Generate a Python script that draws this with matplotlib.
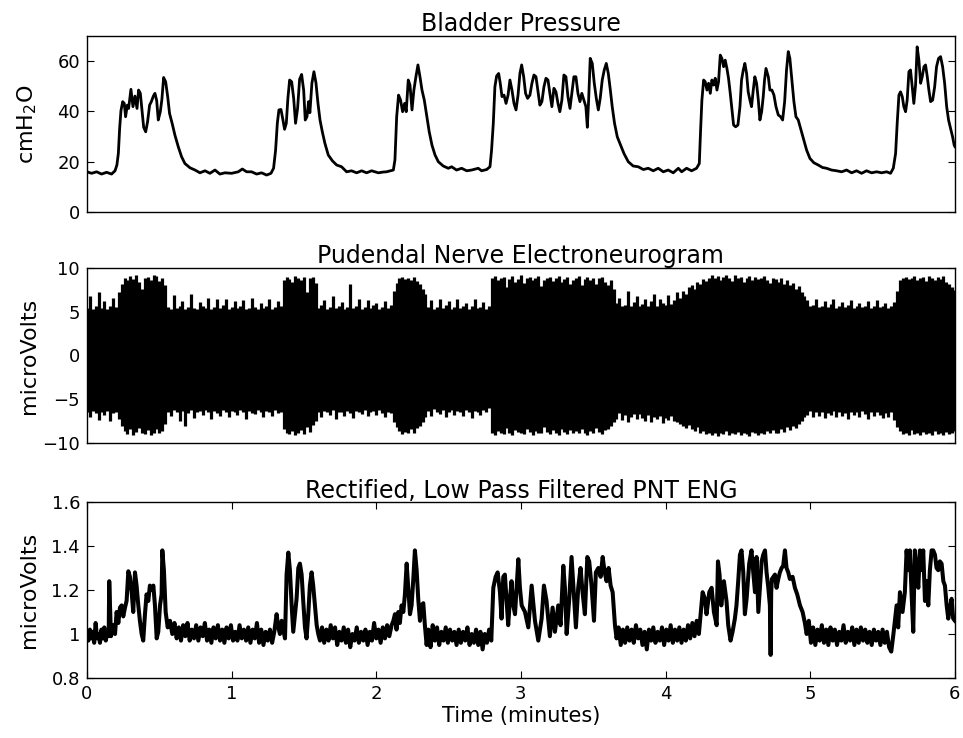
import numpy as np
import matplotlib.pyplot as plt

# bladder pressure (minutes, cmH2O)
bp_t = [0.000, 0.032, 0.067, 0.101, 0.136, 0.170, 0.194, 0.207, 0.217, 0.226,
        0.235, 0.247, 0.258, 0.267, 0.279, 0.288, 0.304, 0.318, 0.332, 0.346,
        0.357, 0.369, 0.380, 0.392, 0.406, 0.419, 0.433, 0.445, 0.459, 0.470,
        0.482, 0.493, 0.507, 0.518, 0.530, 0.544, 0.558, 0.571, 0.590, 0.608,
        0.631, 0.654, 0.677, 0.712, 0.747, 0.781, 0.816, 0.850, 0.885, 0.919,
        0.954, 1.000, 1.046, 1.074, 1.104, 1.138, 1.173, 1.207, 1.242, 1.272,
        1.290, 1.304, 1.316, 1.327, 1.341, 1.353, 1.366, 1.378, 1.389, 1.401,
        1.415, 1.429, 1.442, 1.456, 1.470, 1.484, 1.498, 1.509, 1.521, 1.532,
        1.541, 1.555, 1.569, 1.583, 1.597, 1.611, 1.627, 1.645, 1.668, 1.696,
        1.726, 1.760, 1.795, 1.829, 1.864, 1.899, 1.933, 1.968, 2.014, 2.048,
        2.071, 2.118, 2.129, 2.141, 2.154, 2.168, 2.182, 2.196, 2.207, 2.221,
        2.233, 2.247, 2.260, 2.274, 2.288, 2.302, 2.316, 2.332, 2.348, 2.366,
        2.385, 2.406, 2.429, 2.463, 2.498, 2.521, 2.555, 2.590, 2.625, 2.659,
        2.705, 2.728, 2.763, 2.786, 2.797, 2.809, 2.820, 2.832, 2.846, 2.857,
        2.869, 2.883, 2.897, 2.911, 2.924, 2.938, 2.952, 2.966, 2.980, 2.993,
        3.005, 3.019, 3.032, 3.046, 3.062, 3.076, 3.090, 3.104, 3.117, 3.131,
        3.145, 3.159, 3.173, 3.187, 3.200, 3.214, 3.228, 3.242, 3.256, 3.269,
        3.283, 3.297, 3.311, 3.325, 3.339, 3.352, 3.366, 3.380, 3.394, 3.408,
        3.421, 3.435, 3.449, 3.459, 3.468, 3.479, 3.493, 3.507, 3.521, 3.535,
        3.548, 3.562, 3.576, 3.590, 3.604, 3.618, 3.631, 3.647, 3.666, 3.689,
        3.712, 3.742, 3.776, 3.811, 3.846, 3.880, 3.915, 3.949, 3.984, 4.018,
        4.053, 4.088, 4.111, 4.145, 4.180, 4.214, 4.233, 4.242, 4.251, 4.263,
        4.274, 4.286, 4.297, 4.309, 4.320, 4.332, 4.343, 4.355, 4.366, 4.378,
        4.389, 4.401, 4.412, 4.424, 4.435, 4.447, 4.458, 4.470, 4.484, 4.500,
        4.514, 4.525, 4.537, 4.548, 4.560, 4.571, 4.583, 4.594, 4.606, 4.617,
        4.629, 4.641, 4.652, 4.664, 4.675, 4.684, 4.694, 4.710, 4.721, 4.735,
        4.749, 4.763, 4.779, 4.795, 4.809, 4.823, 4.836, 4.848, 4.859, 4.873,
        4.887, 4.901, 4.917, 4.933, 4.952, 4.975, 4.998, 5.025, 5.055, 5.085,
        5.113, 5.147, 5.182, 5.217, 5.251, 5.286, 5.320, 5.355, 5.389, 5.424,
        5.459, 5.493, 5.528, 5.555, 5.574, 5.590, 5.601, 5.613, 5.624, 5.636,
        5.647, 5.659, 5.670, 5.682, 5.693, 5.705, 5.716, 5.728, 5.739, 5.751,
        5.763, 5.774, 5.786, 5.797, 5.809, 5.820, 5.832, 5.846, 5.860, 5.873,
        5.887, 5.901, 5.915, 5.929, 5.943, 5.956, 5.970, 5.984, 5.995, 6.000]
bp_v = [16.0, 15.4, 16.0, 15.1, 15.8, 15.1, 16.4, 18.7, 23.3, 33.3,
        40.3, 43.9, 43.2, 37.9, 42.5, 41.2, 48.8, 41.9, 46.1, 41.2,
        48.5, 47.2, 40.6, 33.7, 31.9, 35.9, 42.5, 43.9, 46.1, 47.2,
        44.3, 36.6, 39.9, 44.8, 53.5, 51.8, 45.9, 39.2, 35.0, 30.6,
        26.0, 22.0, 19.3, 17.6, 16.7, 15.6, 16.4, 15.4, 16.7, 15.1,
        15.6, 15.4, 16.0, 17.1, 16.0, 16.0, 15.1, 15.6, 14.7, 15.4,
        17.4, 24.6, 35.3, 40.6, 40.8, 37.2, 32.9, 35.3, 45.2, 52.5,
        51.8, 45.2, 35.3, 41.2, 52.8, 54.7, 48.5, 36.6, 37.9, 43.9,
        39.5, 51.2, 55.8, 51.4, 43.2, 36.6, 31.9, 27.3, 22.7, 20.4,
        18.7, 18.0, 16.0, 16.4, 15.6, 16.4, 15.6, 16.4, 15.6, 15.9,
        16.0, 16.7, 20.7, 37.9, 46.5, 44.5, 39.9, 43.2, 39.9, 52.5,
        50.5, 40.6, 48.5, 53.8, 58.5, 53.8, 48.5, 44.5, 38.6, 31.9,
        26.6, 22.7, 20.0, 18.3, 17.4, 18.0, 16.7, 17.4, 16.4, 16.7,
        17.4, 16.4, 16.9, 18.0, 24.6, 35.3, 49.8, 54.1, 55.1, 51.2,
        45.9, 46.5, 43.2, 46.5, 52.5, 48.5, 43.2, 40.6, 46.5, 55.1,
        58.5, 53.8, 47.2, 45.2, 46.5, 51.2, 54.5, 53.8, 48.5, 42.5,
        43.9, 49.8, 53.2, 52.5, 47.2, 41.9, 49.2, 47.8, 43.2, 39.9,
        44.5, 54.5, 53.8, 45.9, 41.2, 47.2, 53.8, 53.8, 47.2, 43.9,
        47.2, 44.5, 41.9, 33.7, 44.5, 61.1, 59.1, 51.2, 45.2, 40.6,
        45.2, 52.5, 56.5, 59.1, 55.1, 48.5, 41.9, 35.3, 29.9, 26.6,
        23.3, 20.0, 18.3, 18.0, 16.9, 17.4, 16.4, 17.4, 16.0, 16.7,
        15.6, 17.4, 16.0, 17.4, 16.4, 17.4, 19.3, 32.6, 44.5, 52.5,
        51.8, 48.5, 51.2, 47.2, 52.5, 50.5, 53.2, 48.5, 51.8, 62.4,
        61.1, 57.8, 60.4, 57.1, 53.2, 47.2, 41.2, 34.6, 33.9, 34.6,
        41.9, 52.5, 56.5, 59.1, 55.1, 47.8, 44.5, 41.9, 48.5, 53.8,
        51.2, 44.5, 36.6, 39.9, 45.9, 52.5, 57.1, 53.8, 48.5, 48.5,
        46.5, 41.9, 38.6, 37.9, 36.6, 43.9, 56.5, 63.8, 61.1, 52.5,
        43.9, 37.9, 36.6, 33.3, 29.3, 24.6, 21.3, 19.6, 18.7, 17.7,
        17.4, 16.7, 16.4, 16.0, 16.7, 15.6, 16.4, 15.4, 16.4, 15.6,
        16.0, 15.6, 16.0, 15.4, 17.4, 23.3, 35.3, 46.5, 47.8, 45.9,
        41.9, 39.9, 44.5, 55.8, 56.5, 49.8, 43.2, 50.5, 65.7, 60.4,
        51.2, 53.8, 57.8, 58.5, 53.8, 48.5, 43.9, 44.5, 49.8, 57.8,
        61.1, 61.8, 57.8, 51.2, 41.9, 36.6, 33.3, 29.9, 26.6, 26.0]

# pudendal nerve ENG peak envelope, one value every 0.02 min
eng_upper = [5.4, 6.8, 5.3, 5.6, 7.3, 5.4, 6.2, 5.3, 5.6, 6.6, 5.5, 7.2,
             8.2, 8.9, 8.6, 9.1, 8.7, 9.2, 8.4, 7.6, 8.8, 9.0, 8.6, 9.2, 9.1, 8.5, 8.9, 8.0,
             5.5, 5.3, 6.9, 5.4, 5.6, 6.2, 5.3, 5.5, 7.0, 5.4,
             5.3, 6.1, 5.6, 5.4, 6.6, 5.3, 5.5, 6.4, 5.4, 5.8,
             6.5, 5.3, 5.5, 6.2, 5.4, 5.7, 6.3, 5.3, 5.4, 6.6,
             5.5, 5.3, 6.0, 5.4, 5.6, 6.4, 5.3, 5.5, 6.2, 5.6,
             8.6, 9.0, 8.7, 8.4, 9.1, 8.9, 8.6, 9.0, 7.2, 8.8, 9.0, 8.3,
             5.4, 5.8, 6.3, 5.3, 5.5, 6.8, 5.4, 5.6, 6.1, 5.3,
             5.5, 8.2, 5.4, 5.7, 6.4, 5.3, 5.5, 6.3, 5.4, 5.8,
             6.0, 5.3, 5.5, 6.2, 5.4, 5.8,
             7.4, 8.3, 8.8, 9.0, 8.7, 8.9, 8.6, 9.0, 8.5, 8.2, 7.6, 7.0,
             5.5, 6.3, 5.3, 5.5, 6.5, 5.4, 5.8, 6.2, 5.3, 5.5,
             6.4, 5.4, 5.7, 6.0, 5.3, 5.6, 6.5, 5.4, 5.5, 6.1, 5.3, 5.6,
             8.9, 9.1, 8.6, 8.8, 9.0, 7.8, 8.7, 9.1, 8.4, 8.7,
             9.2, 8.3, 8.8, 9.0, 8.6, 8.8, 9.1, 7.9, 8.6, 8.9,
             9.0, 8.5, 8.8, 9.1, 8.4, 8.7, 9.0, 8.2, 8.6, 8.8,
             9.1, 8.0, 8.7, 9.0, 8.6, 8.9, 8.2, 8.8, 9.0, 8.4,
             8.0, 8.6, 7.6,
             6.0, 6.6, 5.6, 5.8, 7.4, 5.6, 6.1, 6.8, 5.7, 5.9,
             6.5, 5.6, 6.2, 7.0, 5.7, 6.4, 6.0, 5.8, 6.9, 5.9, 6.3, 7.2,
             6.6, 7.4, 7.0, 7.8, 8.1, 7.6, 8.4, 8.2, 8.7, 8.5, 8.8,
             9.2, 8.8, 9.1, 8.6, 9.0, 9.2, 8.9, 8.5, 9.2, 8.8,
             9.0, 8.4, 8.9, 9.1, 8.6, 9.0, 8.7, 8.8, 9.1, 8.6,
             8.3, 8.8, 8.7, 8.4, 8.9, 8.2, 8.6, 8.0, 8.3, 7.6,
             7.9, 7.2, 6.8,
             6.3, 5.6, 5.8, 6.5, 5.5, 5.7, 6.2, 5.5, 5.9, 6.4,
             5.4, 5.6, 6.1, 5.5, 5.8, 6.3, 5.4, 5.6, 6.0, 5.5,
             5.7, 6.2, 5.4, 5.6, 6.3, 5.5, 5.7, 6.0, 5.4, 5.6, 6.1,
             7.4, 8.6, 8.9, 9.0, 8.7, 8.9, 9.1, 8.6, 8.8, 9.0,
             8.5, 9.1, 8.8, 8.6, 9.0, 8.7, 9.1, 8.4, 8.2, 7.8, 7.5]
eng_lower = [-6.5, -7.0, -6.3, -6.6, -7.4, -6.4, -6.8, -6.3, -7.5, -6.6, -6.4, -7.2,
             -8.0, -8.6, -9.0, -8.4, -9.1, -8.7, -8.3, -8.9, -9.0, -8.5,
             -9.1, -8.8, -8.4, -8.9, -8.6, -7.8,
             -6.4, -6.9, -6.2, -6.5, -7.5, -6.3, -8.0, -6.6, -6.2, -7.1,
             -6.4, -6.3, -6.8, -6.2, -6.5, -7.3, -6.3, -6.6, -6.9, -6.2,
             -6.4, -7.0, -6.3, -6.5, -6.8, -6.2, -6.4, -7.2, -6.3, -6.6,
             -6.7, -6.2, -6.5, -7.0, -6.3, -6.4, -6.9, -6.2, -6.6, -6.4,
             -8.4, -8.8, -9.0, -8.6, -9.1, -8.8, -8.5, -9.0, -8.2, -8.7, -7.9, -7.5,
             -6.4, -7.0, -6.3, -6.5, -6.8, -6.2, -7.2, -6.4, -6.5, -6.9,
             -6.3, -6.6, -7.1, -6.3, -6.5, -6.7, -6.2, -6.9, -6.4, -6.3,
             -6.8, -6.2, -6.6, -7.0, -6.4, -6.6,
             -7.6, -8.2, -8.6, -9.0, -8.7, -8.9, -8.4, -8.8, -8.3, -8.0, -7.6, -7.0,
             -6.3, -6.9, -6.1, -6.4, -6.7, -6.2, -7.0, -6.4, -6.2, -6.8,
             -6.3, -6.5, -6.9, -6.2, -6.4, -7.1, -6.3, -6.5, -6.8, -6.2, -6.4, -6.0,
             -8.8, -9.1, -8.6, -8.9, -9.0, -8.3, -8.9, -9.1, -8.5, -8.7,
             -8.8, -9.0, -8.4, -8.7, -9.1, -8.6, -8.8, -8.9, -8.2, -8.7,
             -9.0, -8.5, -8.8, -9.1, -8.4, -8.7, -9.0, -8.5, -8.8, -8.6,
             -8.9, -8.4, -8.8, -9.1, -8.6, -8.9, -8.3, -8.7, -9.0, -8.5,
             -8.4, -8.1, -7.6,
             -7.2, -6.6, -7.4, -6.8, -7.6, -7.0, -6.7, -7.3, -6.7, -7.1,
             -7.5, -6.8, -7.6, -7.0, -7.3, -6.9, -7.7, -7.1, -7.4, -6.9, -7.5, -7.6,
             -7.8, -8.0, -8.3, -7.9, -8.4, -8.6, -8.2, -8.8, -8.6, -9.0, -8.8,
             -9.1, -8.9, -9.2, -8.8, -9.0, -8.6, -9.1, -8.9, -9.0, -8.7,
             -9.1, -8.8, -9.0, -9.2, -8.7, -8.9, -9.1, -8.8, -9.0, -8.6,
             -8.9, -8.5, -8.8, -8.9, -8.4, -8.7, -8.2, -8.5, -8.0, -8.3,
             -7.8, -7.5, -7.0,
             -6.8, -6.3, -7.0, -6.5, -6.9, -6.4, -7.1, -6.6, -6.8, -6.3,
             -7.0, -6.5, -6.9, -6.6, -7.3, -6.4, -6.8, -6.5, -7.0, -6.3,
             -6.7, -7.2, -6.5, -6.9, -6.4, -6.8, -7.1, -6.6, -7.0, -6.5, -7.4,
             -8.2, -8.6, -9.0, -8.8, -9.1, -8.5, -9.0, -8.9, -9.1, -8.7,
             -9.0, -8.8, -9.1, -8.6, -9.0, -8.9, -9.1, -8.7, -9.0, -8.8, -8.6]

# rectified, low pass filtered ENG (minutes, microVolts)
rect_t = [0.00, 0.01, 0.02, 0.03, 0.04, 0.05, 0.06, 0.07, 0.08, 0.09,
          0.10, 0.11, 0.12, 0.13, 0.14, 0.15, 0.154, 0.166,
          0.182, 0.194, 0.205, 0.217, 0.228, 0.240, 0.251, 0.263, 0.274, 0.286,
          0.297, 0.309, 0.320, 0.332, 0.343, 0.355, 0.366, 0.378, 0.389, 0.401,
          0.412, 0.424, 0.435, 0.447, 0.459, 0.470, 0.482, 0.493, 0.505, 0.516,
          0.521, 0.532, 0.544, 0.558, 0.574,
          0.590, 0.605, 0.620, 0.635, 0.650, 0.665, 0.680, 0.695, 0.710, 0.725,
          0.740, 0.755, 0.770, 0.785, 0.800, 0.815, 0.830, 0.845, 0.860, 0.875,
          0.890, 0.905, 0.920, 0.935, 0.950, 0.965, 0.980, 0.995, 1.010, 1.025,
          1.040, 1.055, 1.070, 1.085, 1.100, 1.115, 1.130, 1.145, 1.160, 1.175,
          1.190, 1.205, 1.220, 1.235, 1.250, 1.265, 1.280, 1.295,
          1.311, 1.323, 1.334, 1.346, 1.357, 1.369, 1.380, 1.392, 1.403, 1.415,
          1.426, 1.438, 1.449, 1.461, 1.472, 1.484, 1.495, 1.507, 1.518, 1.530,
          1.541, 1.553, 1.564, 1.576, 1.588, 1.599, 1.611,
          1.625, 1.640, 1.655, 1.670, 1.685, 1.700, 1.715, 1.730, 1.745, 1.760,
          1.775, 1.790, 1.805, 1.820, 1.835, 1.850, 1.865, 1.880, 1.895, 1.910,
          1.925, 1.940, 1.955, 1.970, 1.985, 2.000, 2.015, 2.030, 2.045, 2.060,
          2.075, 2.090,
          2.106, 2.118, 2.129, 2.140, 2.152, 2.163, 2.175, 2.187, 2.198, 2.210,
          2.221, 2.233, 2.244, 2.256, 2.267, 2.279, 2.290, 2.302, 2.313, 2.325,
          2.336, 2.348,
          2.360, 2.375, 2.390, 2.405, 2.420, 2.435, 2.450, 2.465, 2.480, 2.495,
          2.510, 2.525, 2.540, 2.555, 2.570, 2.585, 2.600, 2.615, 2.630, 2.645,
          2.660, 2.675, 2.690, 2.705, 2.720, 2.735, 2.750, 2.765, 2.780, 2.795,
          2.809, 2.825, 2.839, 2.855, 2.866, 2.878, 2.889, 2.901, 2.912, 2.924,
          2.935, 2.947, 2.959, 2.970, 2.982, 2.993, 3.005,
          3.028, 3.051, 3.074, 3.097, 3.120, 3.143, 3.159, 3.177, 3.200, 3.219,
          3.235, 3.258, 3.274, 3.293, 3.304, 3.316, 3.334, 3.350, 3.362, 3.380,
          3.396, 3.412, 3.426, 3.442, 3.459, 3.472, 3.488, 3.505, 3.518, 3.535,
          3.551, 3.565, 3.579, 3.592, 3.606, 3.620, 3.634, 3.650, 3.661,
          3.675, 3.690, 3.705, 3.720, 3.735, 3.750, 3.765, 3.780, 3.795, 3.810,
          3.825, 3.840, 3.855, 3.870, 3.885, 3.900, 3.915, 3.930, 3.945, 3.960,
          3.975, 3.990, 4.005, 4.020, 4.035, 4.050, 4.065, 4.080, 4.095, 4.110,
          4.125, 4.140, 4.155, 4.170, 4.185, 4.200, 4.215, 4.230,
          4.256, 4.272, 4.283, 4.302, 4.318, 4.334, 4.353, 4.362, 4.373, 4.385,
          4.403, 4.421, 4.433, 4.449, 4.463, 4.479, 4.490, 4.502, 4.514, 4.525,
          4.537, 4.548, 4.560, 4.578, 4.594, 4.606, 4.618, 4.629, 4.641, 4.652,
          4.664, 4.675, 4.687, 4.698, 4.710, 4.721, 4.726, 4.730, 4.735, 4.756,
          4.767, 4.779, 4.790, 4.802, 4.813, 4.825, 4.836, 4.848, 4.859, 4.878,
          4.894, 4.910, 4.929, 4.947, 4.963,
          4.975, 4.990, 5.005, 5.020, 5.035, 5.050, 5.065, 5.080, 5.095, 5.110,
          5.125, 5.140, 5.155, 5.170, 5.185, 5.200, 5.215, 5.230, 5.245, 5.260,
          5.275, 5.290, 5.305, 5.320, 5.335, 5.350, 5.365, 5.380, 5.395, 5.410,
          5.425, 5.440, 5.455, 5.470, 5.485, 5.500, 5.515, 5.530, 5.545, 5.560,
          5.575,
          5.597, 5.608, 5.620, 5.638, 5.654, 5.666, 5.677, 5.689, 5.700, 5.712,
          5.723, 5.735, 5.747, 5.758, 5.770, 5.781, 5.793, 5.804, 5.816, 5.827,
          5.839, 5.850, 5.862, 5.873, 5.885, 5.896, 5.908, 5.920, 5.931, 5.943,
          5.954, 5.966, 5.977, 5.988, 6.000]
rect_v = [1.00, 0.97, 1.02, 0.98, 1.01, 0.96, 1.05, 0.98, 1.00, 0.96,
          1.02, 0.98, 1.03, 0.97, 1.01, 0.99, 1.24, 0.99,
          1.04, 1.00, 1.10, 1.05, 1.12, 1.13, 1.08, 1.12, 1.15, 1.285,
          1.26, 1.19, 1.10, 1.28, 1.22, 1.13, 1.06, 1.00, 0.97, 1.09,
          1.18, 1.15, 1.22, 1.20, 1.22, 1.13, 0.98, 1.01, 1.13, 1.18,
          1.38, 1.29, 1.10, 1.03, 1.06,
          1.00, 1.05, 0.98, 1.03, 0.97, 1.04, 0.99, 1.05, 0.97, 1.02,
          0.98, 1.04, 0.97, 1.03, 0.99, 1.05, 0.97, 1.02, 0.96, 1.03,
          0.98, 1.04, 0.97, 1.02, 0.96, 1.03, 0.98, 1.04, 0.97, 1.01,
          0.97, 1.04, 0.98, 1.02, 0.97, 1.03, 0.96, 1.02, 0.98, 1.05,
          0.96, 1.02, 0.95, 1.01, 0.97, 1.02, 0.96, 1.01,
          1.09, 1.03, 1.00, 1.06, 1.02, 0.98, 1.27, 1.37, 1.29, 1.13,
          1.01, 1.09, 1.16, 1.30, 1.32, 1.27, 1.15, 1.03, 0.98, 1.09,
          1.22, 1.28, 1.22, 1.13, 1.04, 1.00, 0.97,
          1.03, 0.96, 1.02, 0.97, 1.04, 0.98, 1.03, 0.95, 1.01, 0.97,
          1.03, 0.96, 1.02, 0.94, 1.00, 0.97, 1.03, 0.96, 1.01, 0.97,
          1.02, 0.95, 1.01, 0.97, 1.05, 0.98, 1.02, 0.96, 1.03, 0.98,
          1.04, 0.99,
          1.04, 1.06, 1.09, 1.02, 1.10, 1.05, 1.13, 1.10, 1.18, 1.32,
          1.21, 1.09, 1.13, 1.25, 1.38, 1.29, 1.16, 1.06, 1.13, 1.14,
          1.04, 0.95,
          1.02, 0.94, 1.04, 0.97, 1.03, 0.95, 1.01, 0.97, 1.03, 0.96,
          1.02, 0.97, 1.01, 0.95, 1.02, 0.96, 1.01, 0.97, 1.03, 0.95,
          1.00, 0.96, 1.02, 0.95, 1.01, 0.93, 1.00, 0.96, 1.02, 0.97,
          1.21, 1.26, 1.28, 1.19, 1.07, 1.26, 1.27, 1.15, 1.04, 1.16,
          1.24, 1.13, 1.09, 1.21, 1.34, 1.21, 1.13,
          1.10, 1.03, 1.22, 1.06, 0.97, 1.07, 1.22, 1.15, 0.99, 1.12,
          1.01, 1.13, 1.04, 1.31, 1.21, 1.00, 1.16, 1.35, 1.22, 1.03,
          1.21, 1.30, 1.19, 1.09, 1.35, 1.33, 1.22, 1.06, 1.28, 1.30,
          1.26, 1.35, 1.28, 1.24, 1.30, 1.22, 1.19, 1.04, 0.98,
          1.03, 0.95, 1.02, 0.96, 1.03, 0.97, 1.02, 0.96, 1.04, 0.98,
          1.02, 0.95, 1.01, 0.93, 1.02, 0.97, 1.03, 0.96, 1.01, 0.97,
          1.03, 0.95, 1.02, 0.97, 1.04, 0.96, 1.02, 0.97, 1.03, 0.96,
          1.02, 0.97, 1.04, 0.98, 1.05, 0.99, 1.06, 1.00,
          1.19, 1.16, 1.09, 1.19, 1.21, 1.10, 1.04, 1.33, 1.27, 1.13,
          1.24, 1.15, 1.04, 0.97, 1.01, 1.07, 1.13, 1.24, 1.36, 1.38,
          1.28, 1.09, 1.16, 1.32, 1.38, 1.28, 1.19, 1.35, 1.10, 1.21,
          1.33, 1.36, 1.38, 1.28, 1.21, 1.13, 0.905, 1.19, 1.25, 1.27,
          1.21, 1.25, 1.28, 1.30, 1.31, 1.38, 1.30, 1.28, 1.25, 1.26,
          1.21, 1.18, 1.13, 1.10, 1.05,
          1.00, 1.06, 0.96, 1.03, 0.95, 1.02, 0.97, 1.04, 0.96, 1.02,
          0.95, 1.03, 0.97, 1.02, 0.95, 1.01, 0.97, 1.04, 0.96, 1.01,
          0.97, 1.03, 0.95, 1.02, 0.96, 1.03, 0.97, 1.02, 0.96, 1.01,
          0.95, 1.02, 0.97, 1.01, 0.95, 1.02, 0.96, 1.01, 0.94, 0.92,
          1.00,
          1.13, 1.03, 1.19, 1.10, 1.19, 1.38, 1.29, 1.38, 1.19, 1.01,
          1.38, 1.29, 1.21, 1.38, 1.29, 1.38, 1.15, 1.24, 1.13, 1.29,
          1.38, 1.38, 1.36, 1.30, 1.29, 1.33, 1.32, 1.24, 1.22, 1.13,
          1.07, 1.12, 1.16, 1.07, 1.06]

plt.rcParams['font.family'] = ['DejaVu Sans']

fig = plt.figure(figsize=(9.63, 7.38), dpi=100)
left, width = 0.0903, 0.9013
ax1 = fig.add_axes([left, 0.7127, width, 0.2385])
ax2 = fig.add_axes([left, 0.3997, width, 0.2372])
ax3 = fig.add_axes([left, 0.0813, width, 0.2385])

ax1.plot(bp_t, bp_v, color='black', lw=2.0)
ax1.set_ylim(0, 70)
ax1.set_yticks([0, 20, 40, 60])
ax1.set_ylabel('cmH$_2$O', fontsize=16)
ax1.set_title('Bladder Pressure', fontsize=17, pad=3)

env_t = np.linspace(0, 6, len(eng_upper))
ax2.vlines(env_t, eng_lower, eng_upper, color='black', lw=2.3)
ax2.set_ylim(-10, 10)
ax2.set_yticks([-10, -5, 0, 5, 10])
ax2.set_ylabel('microVolts', fontsize=16)
ax2.set_title('Pudendal Nerve Electroneurogram', fontsize=17, pad=3)

ax3.plot(rect_t, rect_v, color='black', lw=2.9)
ax3.set_ylim(0.8, 1.6)
ax3.set_yticks([0.8, 1.0, 1.2, 1.4, 1.6])
ax3.set_yticklabels(['0.8', '1', '1.2', '1.4', '1.6'])
ax3.set_xticks(range(7))
ax3.set_ylabel('microVolts', fontsize=16)
ax3.set_xlabel('Time (minutes)', fontsize=15, labelpad=2)
ax3.set_title('Rectified, Low Pass Filtered PNT ENG', fontsize=17, pad=3)

for ax in (ax1, ax2, ax3):
    ax.set_xlim(0, 6)
    ax.tick_params(direction='in', top=True, right=True, length=5,
                   labelsize=13, pad=5)
    ax.yaxis.set_label_coords(-0.055, 0.5)
    for s in ax.spines.values():
        s.set_linewidth(1)
for ax in (ax1, ax2):
    ax.set_xticks([])

fig.savefig('out.png', dpi=100)
